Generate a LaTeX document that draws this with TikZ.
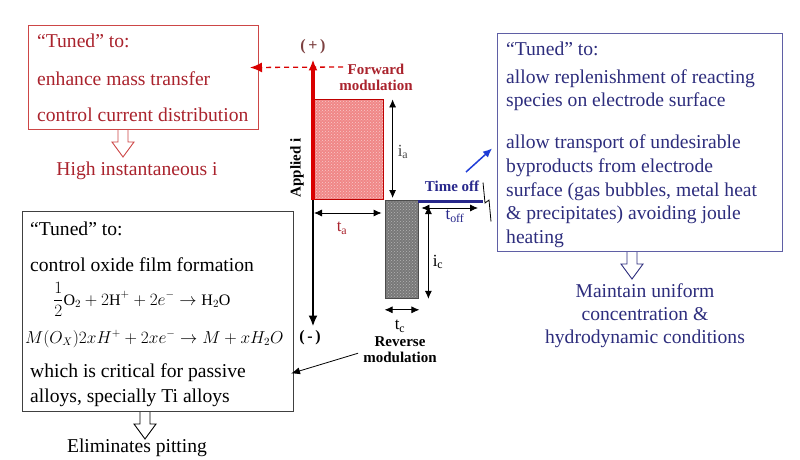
\documentclass[tikz,border=0pt]{standalone}
\usepackage{fontspec}
\setmainfont{Liberation Serif}
\usetikzlibrary{arrows.meta,calc,patterns}

\definecolor{tunedred}{RGB}{170,35,45}
\definecolor{boxred}{RGB}{205,70,70}
\definecolor{tunedblue}{RGB}{45,45,125}
\definecolor{boxblue}{RGB}{95,95,165}
\definecolor{pulsepink}{RGB}{240,135,135}
\definecolor{pulsegray}{RGB}{120,120,120}
\definecolor{offblue}{RGB}{40,40,140}
\definecolor{arrowblue}{RGB}{30,60,215}
\definecolor{plusgray}{RGB}{125,65,65}

% hollow block arrow pointing down, #1 colour, #2 start point
\newcommand{\downblock}[2]{%
  \draw[hollow,#1] (#2) ++(-5,0) -- ++(0,12) -- ++(-6,0) -- ++(11,15) -- ++(11,-15) -- ++(-6,0) -- ++(0,-12);}

\begin{document}
\begin{tikzpicture}[x=1pt, y=-1pt,
  boxtext/.style={font=\fontsize{19.6}{23}\selectfont, anchor=base west, inner sep=0pt},
  resulttext/.style={font=\fontsize{19.6}{23}\selectfont, anchor=base, inner sep=0pt},
  eqtext/.style={font=\fontsize{16}{18}\selectfont, anchor=base west, inner sep=0pt},
  tunedbox/.style={draw, line width=1pt, anchor=north west, inner sep=0pt},
  pulselbl/.style={font=\fontsize{15}{17}\selectfont\bfseries, align=center, inner sep=0pt},
  signlbl/.style={font=\fontsize{16}{18}\selectfont\bfseries, inner sep=0pt},
  dimlbl/.style={font=\fontsize{17}{19}\selectfont, inner sep=0pt},
  dim/.style={{Latex[length=8pt,width=7pt]}-{Latex[length=8pt,width=7pt]}, line width=0.8pt},
  hollow/.style={fill=white, line width=0.9pt}]
  \useasboundingbox[fill=white] (0,0) rectangle (800,460);

  % ---- the three "tuned" boxes
  \node[tunedbox, draw=boxred, minimum width=230pt, minimum height=104pt] (fwdbox) at (28,25) {};
  \node[tunedbox, draw=boxblue, minimum width=285pt, minimum height=218pt] (timebox) at (497,33) {};
  \node[tunedbox, draw=black!75, minimum width=271pt, minimum height=200pt] (oxbox) at (22,211) {};

  \node[boxtext, text=tunedred] (fwdt1) at (37,48) {``Tuned'' to:};
  \node[boxtext, text=tunedred] (fwdt2) at (37,85) {enhance mass transfer};
  \node[boxtext, text=tunedred] (fwdt3) at (37,121) {control current distribution};

  \node[boxtext, text=tunedblue] (offt1) at (506,56) {``Tuned'' to:};
  \node[boxtext, text=tunedblue] (offt2) at (506,83) {allow replenishment of reacting};
  \node[boxtext, text=tunedblue] (offt3) at (506,106) {species on electrode surface};
  \node[boxtext, text=tunedblue] (offt4) at (506,148) {allow transport of undesirable};
  \node[boxtext, text=tunedblue] (offt5) at (506,172) {byproducts from electrode};
  \node[boxtext, text=tunedblue] (offt6) at (506,196) {surface (gas bubbles, metal heat};
  \node[boxtext, text=tunedblue] (offt7) at (506,219) {\& precipitates) avoiding joule};
  \node[boxtext, text=tunedblue] (offt8) at (506,243) {heating};

  \node[boxtext] (oxt1) at (30,235) {``Tuned'' to:};
  \node[boxtext] (oxt2) at (30,271) {control oxide film formation};
  \node[eqtext] (oxeq1) at (53,305) {$\displaystyle\frac{1}{2}\mathrm{O}_2+2\mathrm{H}^{+}+2e^{-}\rightarrow\mathrm{H}_2\mathrm{O}$};
  \node[eqtext] (oxeq2) at (25,343) {$M(O_X)2xH^{+}+2xe^{-}\rightarrow M+xH_2O$};
  \node[boxtext] (oxt3) at (30,377) {which is critical for passive};
  \node[boxtext] (oxt4) at (30,402) {alloys, specially Ti alloys};

  % ---- results below the boxes
  \node[resulttext, text=tunedred] (highi) at (137,175) {High instantaneous i};
  \node[resulttext, text=tunedblue] (uniform1) at (645,297) {Maintain uniform};
  \node[resulttext, text=tunedblue] (uniform2) at (645,320) {concentration \&};
  \node[resulttext, text=tunedblue] (uniform3) at (645,343) {hydrodynamic conditions};
  \node[resulttext] (pitting) at (137,452) {Eliminates pitting};
  \downblock{draw=boxred}{$(fwdbox.south west)+(95,0)$}
  \downblock{draw=tunedblue}{$(timebox.south west)+(135,0)$}
  \downblock{draw=black}{$(oxbox.south west)+(123,0)$}

  % ---- pulse waveform
  \coordinate (origin) at (313,200);
  \node[signlbl, text=plusgray] (plus) at (313,47) {(\,+\,)};
  \node[signlbl] (minus) at (310,338) {(\,-\,)};
  \node[anchor=south west, inner sep=0pt, minimum width=70pt, minimum height=100pt, draw=red!75!black, line width=0.6pt,
    preaction={fill=pulsepink}, pattern=crosshatch dots, pattern color=white!55!pulsepink] (fwd) at (origin) {};
  \node[anchor=north west, inner sep=0pt, minimum width=33pt, minimum height=98pt, draw=black!70, line width=0.8pt,
    preaction={fill=pulsegray}, pattern=crosshatch dots, pattern color=white!45!pulsegray] (rev) at ($(fwd.south east)+(1,0)$) {};
  \draw[-{Latex[length=11pt,width=9pt]}, line width=3.5pt, red!85!black] (origin) -- ($(origin|-plus.south)+(0,5)$);
  \draw[-{Latex[length=11pt,width=9pt]}, line width=2.4pt] (origin) -- ($(origin|-minus.north)+(0,-4)$);

  \node[pulselbl, rotate=90] (applied) at (297,168) {Applied i};
  \node[pulselbl, text=tunedred] (fwdlbl) at (376,77) {Forward\\[-1pt]modulation};
  \node[pulselbl] (revlbl) at (400,350) {Reverse\\[-1pt]modulation};

  % dimensions
  \draw[dim] ($(fwd.north east)+(9,0)$) -- ($(fwd.south east)+(9,-2)$);
  \node[dimlbl, text=black!70] (ialbl) at (403,152) {i\textsubscript{a}};
  \draw[dim] ($(fwd.south west)+(1,13)$) -- ($(fwd.south east)+(-2,13)$);
  \node[dimlbl, text=tunedred] (talbl) at (342,228) {t\textsubscript{a}};
  \draw[dim] ($(rev.north east)+(10,6)$) -- ($(rev.south east)+(10,0)$);
  \node[dimlbl] (iclbl) at (438,262) {i\textsubscript{c}};
  \draw[dim] ($(rev.south west)+(0,11)$) -- ($(rev.south east)+(1,11)$);
  \node[dimlbl] (tclbl) at (400,326) {t\textsubscript{c}};

  % time off
  \coordinate (offend) at (483,201.5);
  \draw[offblue, line width=3pt] ($(rev.north east)+(0,1.5)$) -- (offend);
  \draw[line width=0.8pt] ($(offend)+(0,-19)$) -- ($(offend)+(2,1.5)$) -- ($(offend)+(6,-1.5)$) -- ($(offend)+(8,20)$);
  \draw[dim] ($(rev.north east)+(3,8)$) -- ($(offend)+(-5,6.5)$);
  \node[dimlbl, text=offblue] (tofflbl) at (455,216) {t\textsubscript{off}};
  \node[pulselbl, text=offblue] (timeoff) at (452,186) {Time off};

  % connectors to the boxes
  \coordinate (fwdtail) at (343,67);
  \coordinate (offtail) at (466,172);
  \draw[-{Latex[length=12pt,width=10pt]}, red!85!black, line width=1.3pt, dash pattern=on 5pt off 4pt] (fwdtail) -- ($(fwdbox.east)+(-9,-10)$);
  \draw[-{Latex[length=9pt,width=8pt]}, arrowblue, line width=1.5pt] (offtail) -- ($(timebox.west)+(-5,6)$);
  \draw[-{Latex[length=9pt,width=7pt]}, line width=0.8pt] ($(revlbl.south west)+(-5,-10)$) -- ($(oxbox.east)+(-3,62)$);
\end{tikzpicture}
\end{document}
